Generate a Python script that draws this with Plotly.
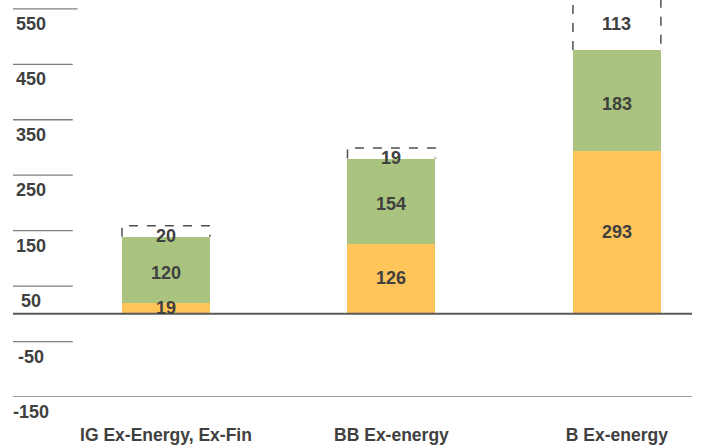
import plotly.graph_objects as go

categories = ["IG Ex-Energy, Ex-Fin", "BB Ex-energy", "B Ex-energy"]
bottom_vals = [19, 126, 293]
middle_vals = [120, 154, 183]
top_vals = [20, 19, 113]
y_tick_vals = [550, 450, 350, 250, 150, 50, -50, -150]
y_tick_text = ["550", "450", "350", "250", "150", "50", "-50", "-150"]

ORANGE = "#FFC55A"
GREEN = "#AAC47F"
TEXT = "#404040"
FONT = "Liberation Sans, Arial, sans-serif"
BW = 0.39

xs = list(range(len(categories)))
fig = go.Figure()
fig.add_bar(x=xs, y=bottom_vals, marker=dict(color=ORANGE, line=dict(width=0)), width=BW)
fig.add_bar(x=xs, y=middle_vals, marker=dict(color=GREEN, line=dict(width=0)), width=BW)
fig.add_bar(x=xs, y=top_vals, marker=dict(color="white", line=dict(width=0)), width=BW)

shapes = []
annotations = []
lab_font = dict(family=FONT, size=18, color=TEXT, weight="bold")
for i, x in enumerate(xs):
    b, m, t = bottom_vals[i], middle_vals[i], top_vals[i]
    base = b + m
    top = base + t
    x0, x1 = x - BW / 2, x + BW / 2
    shapes.append(dict(type="path", xref="x", yref="y",
                       path=f"M {x0},{base} L {x0},{top} L {x1},{top} L {x1},{base}",
                       line=dict(color="#505050", width=1.5, dash="dash"), layer="above"))
    for val, ymid, shift in [(b, b / 2, 1), (m, b + m / 2, -3), (t, base + t / 2, -5)]:
        annotations.append(dict(x=x, y=ymid, xref="x", yref="y", text=str(val), showarrow=False,
                                yshift=shift, font=lab_font))

for v, txt in zip(y_tick_vals, y_tick_text):
    full = v == -150
    shapes.append(dict(type="line", xref="paper", yref="y", x0=0, x1=1 if full else (0.095 if v == 550 else 0.088),
                       y0=v, y1=v, line=dict(color="#7f7f7f", width=1.3), layer="below"))
    annotations.append(dict(x=0.026, y=v, xref="paper", yref="y", text=txt, showarrow=False,
                            xanchor="center", yanchor="middle", yshift=-15, font=lab_font))

shapes.append(dict(type="line", xref="paper", yref="y", x0=0, x1=1, y0=0, y1=0,
                   line=dict(color="#595959", width=2), layer="above"))

fig.update_layout(
    width=701, height=447,
    margin=dict(l=13, r=9, t=0, b=50),
    barmode="stack", bargap=0,
    showlegend=False,
    plot_bgcolor="white", paper_bgcolor="white",
    shapes=shapes, annotations=annotations,
    xaxis=dict(range=[-0.6785, 2.333], tickvals=xs, ticktext=categories, showgrid=False,
               zeroline=False, showline=False, ticks="", ticklabelstandoff=25,
               tickfont=dict(family=FONT, size=17.5, color=TEXT, weight="bold")),
    yaxis=dict(range=[-150, 566], showgrid=False, zeroline=False, showline=False,
               showticklabels=False, ticks=""),
)
fig.write_html("out.html")
